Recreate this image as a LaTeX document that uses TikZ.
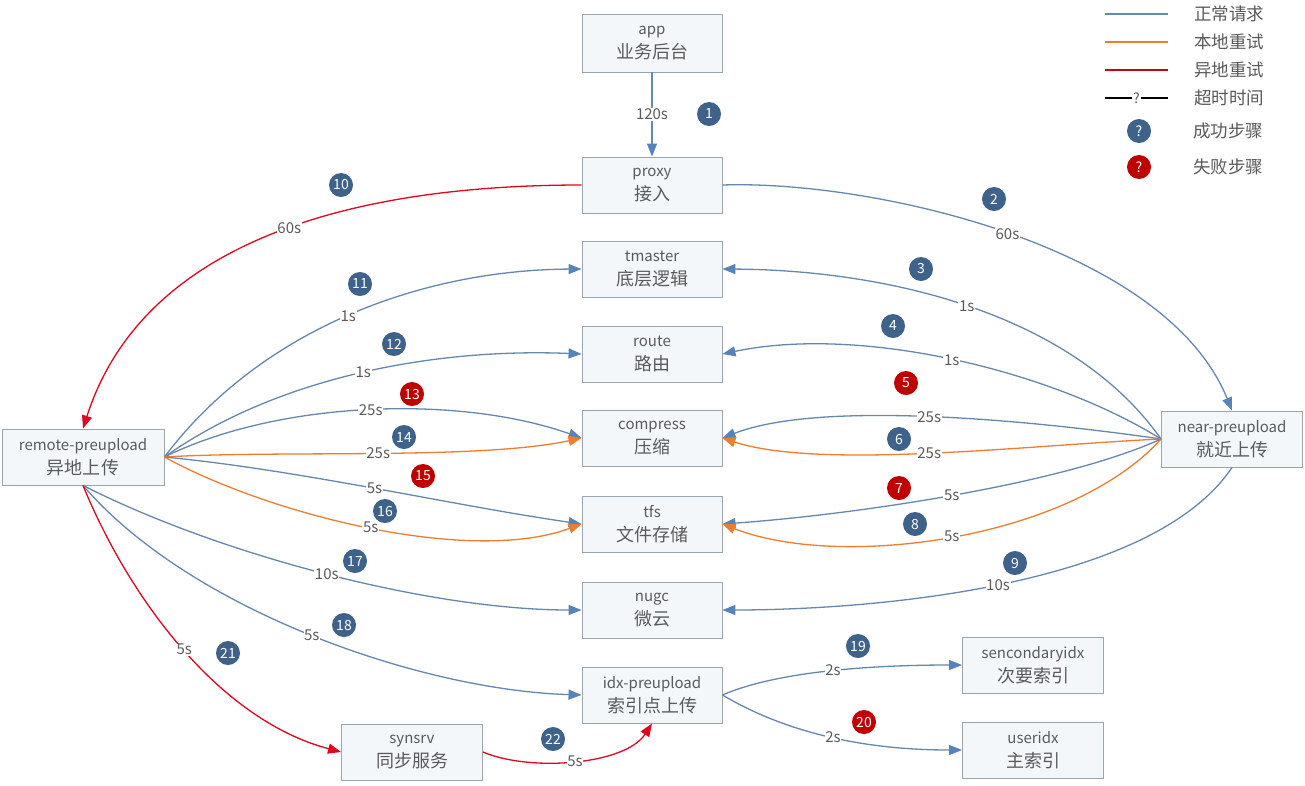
\documentclass[tikz,border=0pt]{standalone}
\usepackage{fontspec}
\newfontfamily\cjk{Noto Sans CJK SC}
\usetikzlibrary{arrows.meta}
\definecolor{edgeblue}{HTML}{6787AC}
\definecolor{arrblue}{HTML}{5583BA}
\definecolor{eorange}{HTML}{ED7D31}
\definecolor{ered}{HTML}{E0061F}
\definecolor{cblue}{HTML}{3E6289}
\definecolor{cred}{HTML}{C00000}
\definecolor{boxdraw}{HTML}{98A5B2}
\definecolor{boxfill}{HTML}{F4F7FA}
\definecolor{txt}{HTML}{5A5A5A}
\newcommand{\lat}[1]{{\fontsize{15}{17}\selectfont #1}}
\tikzset{
  box/.style={draw=boxdraw, line width=0.9pt, fill=boxfill, minimum width=140pt,
    minimum height=56pt, align=center, text=txt, inner sep=0pt,
    font=\cjk\fontsize{18}{24}\selectfont},
  nrm/.style={draw=edgeblue, line width=1.3pt,
    -{Triangle[length=13pt,width=10pt,color=arrblue]}},
  loc/.style={draw=eorange, line width=1.3pt,
    -{Triangle[length=13pt,width=10pt,color=eorange]}},
  rem/.style={draw=ered, line width=1.3pt,
    -{Triangle[length=13pt,width=10pt,color=ered]}},
  lbl/.style={fill=white, inner sep=0.6pt, text=txt,
    font=\cjk\fontsize{15}{15}\selectfont},
  stepb/.style={circle, fill=cblue, text=white, minimum size=24pt, inner sep=0pt,
    font=\cjk\fontsize{14}{14}\selectfont},
  stepr/.style={stepb, fill=cred},
  legtxt/.style={anchor=west, text=txt, inner sep=0pt,
    font=\cjk\fontsize{17.5}{19}\selectfont},
}
\begin{document}
\begin{tikzpicture}[x=1pt,y=-1pt]
\useasboundingbox[fill=white] (0,0) rectangle (1305,785);

% boxes
\node[box, minimum height=58pt] (app) at (652,43) {\lat{app}\\业务后台};
\node[box] (proxy) at (652,185) {\lat{proxy}\\接入};
\node[box] (tmaster) at (652,269) {\lat{tmaster}\\底层逻辑};
\node[box] (route) at (652,354) {\lat{route}\\路由};
\node[box] (compress) at (652,438) {\lat{compress}\\压缩};
\node[box] (tfs) at (652,524) {\lat{tfs}\\文件存储};
\node[box] (nugc) at (652,610) {\lat{nugc}\\微云};
\node[box] (idx) at (652,695) {\lat{idx-preupload}\\索引点上传};
\node[box, minimum width=162pt] (remote) at (83,457) {\lat{remote-preupload}\\异地上传};
\node[box, minimum width=141pt] (near) at (1232,439) {\lat{near-preupload}\\就近上传};
\node[box, minimum width=141pt] (sec) at (1033,665) {\lat{sencondaryidx}\\次要索引};
\node[box, minimum width=141pt] (user) at (1033,750) {\lat{useridx}\\主索引};
\node[box, minimum width=141pt] (syn) at (412,752) {\lat{synsrv}\\同步服务};

% edges
\draw[nrm] (app) -- node[lbl]{120s} (proxy);
\draw[nrm] (proxy.east) .. controls (870,180) and (1165,245) .. node[lbl]{60s} (near.north);
\draw[nrm] (near.west) .. controls (1070,310) and (880,270) .. node[lbl]{1s} (tmaster.east);
\draw[nrm] (near.west) .. controls (1050,370) and (860,325) .. node[lbl]{1s} (route.east);
\draw[nrm] (near.west) .. controls (1030,420) and (820,400) .. node[lbl]{25s} (compress.east);
\draw[loc] (near.west) .. controls (1030,445) and (820,470) .. node[lbl]{25s} (compress.east);
\draw[nrm] (near.west) .. controls (1060,485) and (850,515) .. node[lbl]{5s} (tfs.east);
\draw[loc] (near.west) .. controls (1070,540) and (840,570) .. node[lbl]{5s} (tfs.east);
\draw[nrm] (near.south) .. controls (1150,590) and (860,610) .. node[lbl]{10s} (nugc.east);
\draw[rem] (proxy.west) .. controls (400,185) and (150,220) .. node[lbl]{60s} (remote.north);
\draw[nrm] (remote.east) .. controls (260,330) and (420,270) .. node[lbl]{1s} (tmaster.west);
\draw[nrm] (remote.east) .. controls (280,375) and (440,348) .. node[lbl]{1s} (route.west);
\draw[nrm] (remote.east) .. controls (280,400) and (460,395) .. node[lbl]{25s} (compress.west);
\draw[loc] (remote.east) .. controls (280,450) and (480,460) .. node[lbl]{25s} (compress.west);
\draw[nrm] (remote.east) .. controls (300,470) and (450,505) .. node[lbl]{5s} (tfs.west);
\draw[loc] (remote.east) .. controls (270,515) and (470,565) .. node[lbl]{5s} (tfs.west);
\draw[nrm] (remote.south) .. controls (220,555) and (430,610) .. node[lbl]{10s} (nugc.west);
\draw[nrm] (remote.south) .. controls (190,610) and (420,690) .. node[lbl]{5s} (idx.west);
\draw[rem] (remote.south) .. controls (130,600) and (220,720) .. node[lbl]{5s} (syn.west);
\draw[rem] (syn.east) .. controls (530,772) and (625,765) .. node[lbl]{5s} (idx.south);
\draw[nrm] (idx.east) .. controls (780,670) and (880,665) .. node[lbl]{2s} (sec.west);
\draw[nrm] (idx.east) .. controls (790,735) and (870,750) .. node[lbl]{2s} (user.west);

% step markers
\node[stepb] (s1) at (709,114) {1};
\node[stepb] (s2) at (994,199) {2};
\node[stepb] (s3) at (921,269) {3};
\node[stepb] (s4) at (893,326) {4};
\node[stepr] (s5) at (906,383) {5};
\node[stepb] (s6) at (899,439) {6};
\node[stepr] (s7) at (899,488) {7};
\node[stepb] (s8) at (915,524) {8};
\node[stepb] (s9) at (1015,563) {9};
\node[stepb] (s10) at (341,185) {10};
\node[stepb] (s11) at (360,284) {11};
\node[stepb] (s12) at (394,344) {12};
\node[stepr] (s13) at (412,394) {13};
\node[stepb] (s14) at (404,437) {14};
\node[stepr] (s15) at (423,476) {15};
\node[stepb] (s16) at (385,511) {16};
\node[stepb] (s17) at (355,561) {17};
\node[stepb] (s18) at (344,625) {18};
\node[stepb] (s19) at (858,646) {19};
\node[stepr] (s20) at (864,722) {20};
\node[stepb] (s21) at (228,653) {21};
\node[stepb] (s22) at (553,739) {22};

% legend
\coordinate (la1) at (1105,14); \coordinate (lb1) at (1168,14);
\coordinate (la2) at (1105,42); \coordinate (lb2) at (1168,42);
\coordinate (la3) at (1105,70); \coordinate (lb3) at (1168,70);
\coordinate (la4) at (1105,98); \coordinate (lb4) at (1168,98);
\draw[edgeblue, line width=1.3pt] (la1) -- (lb1);
\draw[eorange, line width=1.3pt] (la2) -- (lb2);
\draw[ered!85!black, line width=1.3pt] (la3) -- (lb3);
\draw[black, line width=1.3pt] (la4) -- node[fill=white, inner sep=1.5pt, text=txt,
  font=\cjk\fontsize{14}{14}\selectfont]{?} (lb4);
\node[stepb] (lg1) at (1139,131) {?};
\node[stepr] (lg2) at (1139,167) {?};
\node[legtxt] (t1) at (1194,14) {正常请求};
\node[legtxt] (t2) at (1194,42) {本地重试};
\node[legtxt] (t3) at (1194,70) {异地重试};
\node[legtxt] (t4) at (1194,98) {超时时间};
\node[legtxt] (t5) at (1193,131) {成功步骤};
\node[legtxt] (t6) at (1193,167) {失败步骤};
\end{tikzpicture}
\end{document}
